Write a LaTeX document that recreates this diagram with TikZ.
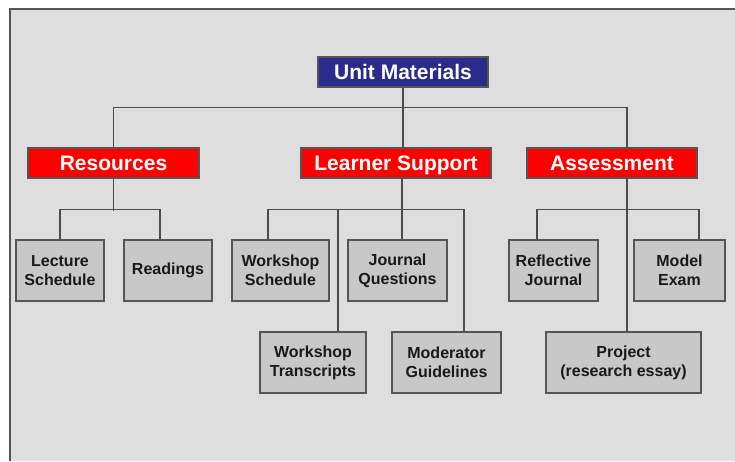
\documentclass[tikz,border=0pt]{standalone}
\usepackage{fontspec}
\setmainfont{Liberation Sans}
\usepackage{tikz}

\definecolor{panel}{HTML}{DEDEDE}
\definecolor{navy}{HTML}{2B2B8C}
\definecolor{boxgray}{HTML}{C8C8C8}
\definecolor{edge}{HTML}{555555}

\begin{document}
\begin{tikzpicture}[x=1pt,y=-1pt,
	head/.style={draw=edge,line width=1.5pt,fill=navy,text=white,font=\fontsize{21}{24}\selectfont\bfseries,minimum height=30pt,inner sep=0pt,text height=15pt,text depth=0pt},
	group/.style={head,fill=red},
	item/.style={draw=edge,line width=1.5pt,fill=boxgray,text=black!90,font=\fontsize{16}{19}\selectfont\bfseries,minimum height=61pt,inner sep=0pt,align=center},
	link/.style={draw=black!70,line width=1.3pt}]
	
	\useasboundingbox (0,0) rectangle (735,461);
	\fill [panel] (9,8) rectangle (735,461);
	\draw [edge,line width=2pt] (10,461) -- (10,9) -- (735,9);
	
	\node (um) [head,minimum width=170pt] at (403,72) {Unit Materials};
	\node (res) [group,minimum width=171pt] at (113.5,163) {Resources};
	\node (ls) [group,minimum width=190pt] at (396,163) {Learner Support};
	\node (ass) [group,minimum width=170pt] at (612,163) {Assessment};
	
	\foreach \name/\x/\w/\txt in {lec/60/88/{Lecture\\Schedule},rea/168/88/{Readings},wss/280.5/97/{Workshop\\Schedule},jq/397.5/99/{Journal\\Questions},rj/553.5/89/{Reflective\\Journal},me/679.5/91/{Model\\Exam}}
	\node (\name) [item,minimum width=\w pt] at (\x,270.5) {\txt};
	
	\foreach \name/\x/\w/\txt in {wt/313/106/{Workshop\\Transcripts},mg/446.5/109/{Moderator\\Guidelines},prj/623.5/155/{Project\\(research essay)}}
	\node (\name) [item,minimum width=\w pt] at (\x,362.5) {\txt};
	
	\draw [link] (um.south) -- (um.south |- ls.north);
	\draw [link] (res.north) -- ++(0,-40) -| ([xshift=15pt]ass.north);
	
	\draw [link] (res.south) -- ++(0,32);
	\draw [link] (lec.north) -- ++(0,-30) -| ([xshift=-8pt]rea.north);
	
	\draw [link] ([xshift=6pt]ls.south) -- ([xshift=4.5pt]jq.north);
	\draw [link] ([xshift=-12.5pt]wss.north) -- ++(0,-30) coordinate (lb) -| ([xshift=17.5pt]mg.north);
	\draw [link] ([xshift=25pt]wt.north) -- ([xshift=25pt]wt.north |- lb);
	
	\draw [link] ([xshift=15pt]ass.south) -- ([xshift=3.5pt]prj.north);
	\draw [link] ([xshift=-16.5pt]rj.north) -- ++(0,-30) -| ([xshift=19.5pt]me.north);
	
\end{tikzpicture}
\end{document}
